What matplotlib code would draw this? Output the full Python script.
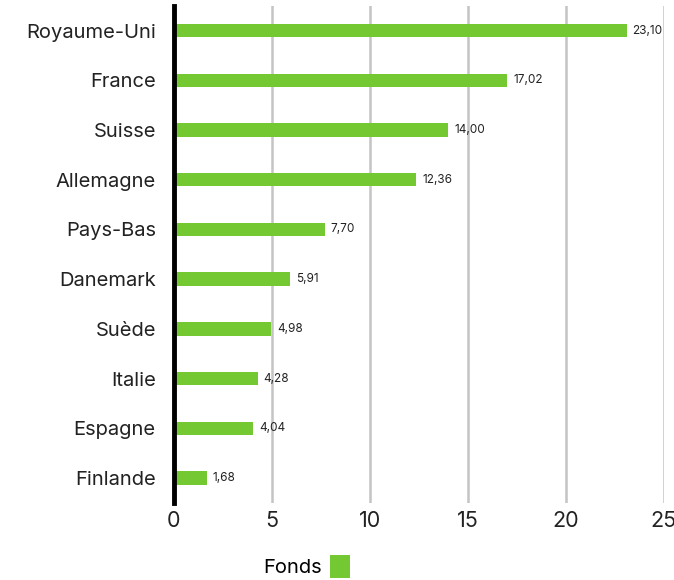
import matplotlib
matplotlib.use('Agg')
import matplotlib.pyplot as plt
from matplotlib.patches import Patch

countries = ['Royaume-Uni', 'France', 'Suisse', 'Allemagne', 'Pays-Bas',
             'Danemark', 'Suède', 'Italie', 'Espagne', 'Finlande']
fonds = [23.10, 17.02, 14.00, 12.36, 7.70, 5.91, 4.98, 4.28, 4.04, 1.68]
x_ticks = [0, 5, 10, 15, 20, 25]

green = '#74c832'
plt.rcParams['font.family'] = ['Inter', 'DejaVu Sans']

fig = plt.figure(figsize=(6.74, 5.8), dpi=100)
ax = fig.add_axes([0.258, 0.133, 0.727, 0.857])

y = list(range(len(countries)))
ax.barh(y, fonds, height=0.27, color=green, zorder=3)
for yi, v in zip(y, fonds):
    ax.text(v + 0.3, yi, '{:.2f}'.format(v).replace('.', ','), va='center',
            ha='left', fontsize=8.5, color='#222222', zorder=4)

ax.set_ylim(len(countries) - 0.5, -0.5)
ax.set_xlim(0, 25)
ax.set_yticks(y)
ax.set_yticklabels(countries, fontsize=14.5, color='#222222')
ax.set_xticks(x_ticks)
ax.set_xticklabels([str(t) for t in x_ticks], fontsize=15.5, color='#222222')
ax.tick_params(axis='both', length=0)
ax.tick_params(axis='y', pad=13)
ax.tick_params(axis='x', pad=6)

ax.grid(axis='x', color='#c4c4c4', linewidth=1.8, zorder=0)
for s in ['top', 'right', 'bottom']:
    ax.spines[s].set_visible(False)
ax.spines['left'].set_linewidth(3.5)
ax.spines['left'].set_color('black')
ax.spines['left'].set_zorder(5)

handle = Patch(facecolor=green, edgecolor='none', label='Fonds')
fig.legend(handles=[handle], loc='lower center', bbox_to_anchor=(0.455, -0.028),
           frameon=False, markerfirst=False, fontsize=14.5, handlelength=1.0,
           handleheight=1.4, handletextpad=0.4)

fig.savefig('out.png', dpi=100)
